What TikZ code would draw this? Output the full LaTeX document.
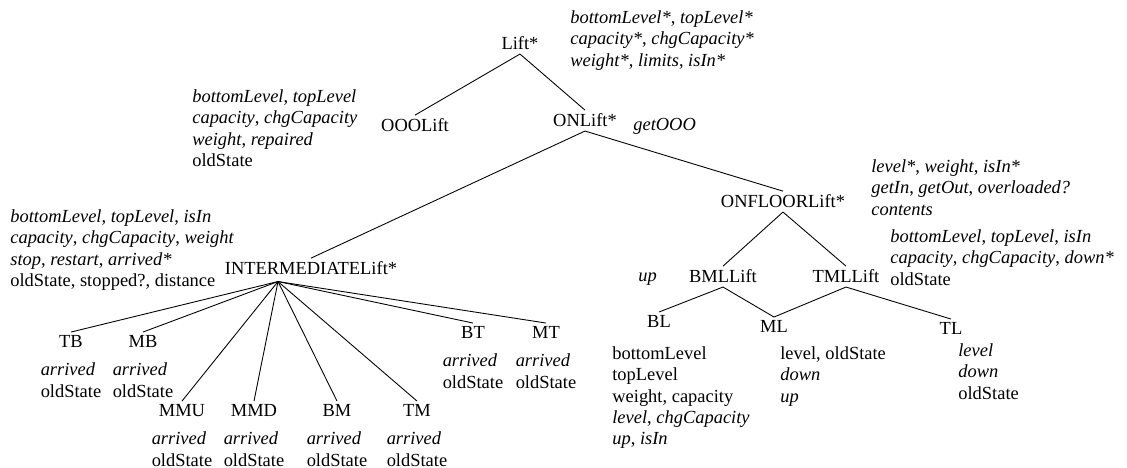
\documentclass[tikz,border=0pt]{standalone}
\usepackage{fontspec}
\setmainfont{Liberation Serif}
\usepackage{tikz}
\usetikzlibrary{positioning,calc}

\begin{document}
\begin{tikzpicture}[
    every node/.style={font=\fontsize{10.5}{12.2}\selectfont},
    cls/.style      ={inner sep=2pt,anchor=base},
    feat/.style     ={inner sep=0pt,anchor=north west,align=left},
    leaffeat/.style ={inner sep=0pt,align=left},
    link/.style     ={-,black,line width=0.5pt},
  ]
  \useasboundingbox (0,0) rectangle (22.54,-9.36);

  % --- top of the hierarchy ---
  \node[cls] (lift) at (10.40,-1.00) {Lift*};
  \node[cls] (ooo)  at ( 8.30,-2.64) {OOOLift};
  \node[cls] (on)   at (11.70,-2.54) {ONLift*};
  \draw[link] (lift.south) -- (ooo.north);
  \draw[link] (lift.south) -- (on.north);

  \node[feat] (liftF) at (11.40,-0.20)
    {\textit{bottomLevel*}, \textit{topLevel*}\\
     \textit{capacity*}, \textit{chgCapacity*}\\
     \textit{weight*}, \textit{limits}, \textit{isIn*}};
  \node[feat] (oooF) at (3.84,-1.78)
    {\textit{bottomLevel}, \textit{topLevel}\\
     \textit{capacity}, \textit{chgCapacity}\\
     \textit{weight}, \textit{repaired}\\
     oldState};
  \node[inner sep=0pt,anchor=base west] (onF) at (12.66,-2.62) {\textit{getOOO}};

  % --- intermediate lift and its states ---
  \node[cls] (inter) at (6.22,-5.50) {INTERMEDIATELift*};
  \draw[link] (on.south) -- (inter.north);
  \node[feat] (interF) at (0.20,-4.18)
    {\textit{bottomLevel}, \textit{topLevel}, \textit{isIn}\\
     \textit{capacity}, \textit{chgCapacity}, \textit{weight}\\
     \textit{stop}, \textit{restart}, \textit{arrived*}\\
     oldState, stopped?, distance};
  \coordinate (hub) at ($(inter.south)+(-0.66,-0.05)$);

  \node[cls] (tb)  at ( 1.42,-6.96) {TB};
  \node[cls] (mb)  at ( 2.86,-6.96) {MB};
  \node[cls] (mmu) at ( 3.64,-8.34) {MMU};
  \node[cls] (mmd) at ( 5.08,-8.34) {MMD};
  \node[cls] (bm)  at ( 6.74,-8.34) {BM};
  \node[cls] (tm)  at ( 8.34,-8.34) {TM};
  \node[cls] (bt)  at ( 9.46,-6.78) {BT};
  \node[cls] (mt)  at (10.92,-6.78) {MT};
  \foreach \s in {tb,mb,mmu,mmd,bm,tm,bt,mt}{
    \draw[link] (hub) -- (\s.north);
    \node[leaffeat,below=6pt of \s] (\s F) {\textit{arrived}\\oldState};
  }

  % --- lift standing at a floor ---
  \node[cls] (onfloor) at (15.66,-4.16) {ONFLOORLift*};
  \draw[link] (on.south) -- (onfloor.north);
  \node[feat] (onfloorF) at (17.42,-3.18)
    {\textit{level*}, \textit{weight}, \textit{isIn*}\\
     \textit{getIn}, \textit{getOut}, \textit{overloaded?}\\
     \textit{contents}};

  \node[cls] (bml) at (14.46,-5.66) {BMLLift};
  \node[cls] (tml) at (16.92,-5.66) {TMLLift};
  \draw[link] (onfloor.south) -- (bml.north);
  \draw[link] (onfloor.south) -- (tml.north);
  \node[inner sep=0pt,anchor=base west] (bmlF) at (12.76,-5.64) {\textit{up}};
  \node[feat] (tmlF) at (17.80,-4.58)
    {\textit{bottomLevel}, \textit{topLevel}, \textit{isIn}\\
     \textit{capacity}, \textit{chgCapacity}, \textit{down*}\\
     oldState};

  \node[cls] (bl) at (13.18,-6.56) {BL};
  \node[cls] (ml) at (15.48,-6.66) {ML};
  \node[cls] (tl) at (19.02,-6.70) {TL};
  \draw[link] (bml.south) -- (bl.north);
  \draw[link] (bml.south) -- (ml.north);
  \draw[link] (tml.south) -- (ml.north);
  \draw[link] (tml.south) -- (tl.north);

  \node[feat] (blF) at (12.24,-6.92)
    {bottomLevel\\
     topLevel\\
     weight, capacity\\
     \textit{level}, \textit{chgCapacity}\\
     \textit{up}, \textit{isIn}};
  \node[feat] (mlF) at (15.60,-6.92)
    {level, oldState\\
     \textit{down}\\
     \textit{up}};
  \node[feat] (tlF) at (19.16,-6.86)
    {\textit{level}\\
     \textit{down}\\
     oldState};
\end{tikzpicture}
\end{document}
